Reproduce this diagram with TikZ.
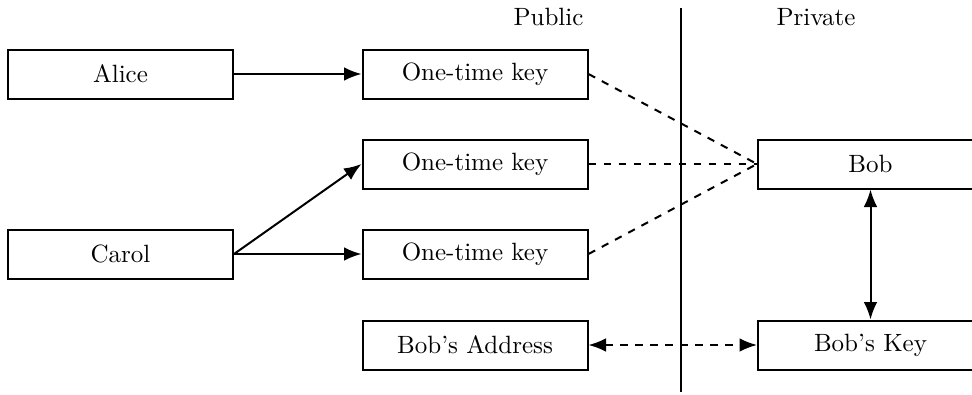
\documentclass[tikz,border=0pt]{standalone}
\usepackage{tikz}
\usetikzlibrary{arrows.meta,positioning,calc}

\begin{document}
\begin{tikzpicture}[x=0.4pt, y=-0.4pt, >={Latex[length=7pt,width=5.5pt]},
  party/.style={draw, thick, minimum width=90pt, minimum height=19.6pt, inner sep=0pt},
  link/.style={thick},
  hidden/.style={thick, dashed}]

\useasboundingbox (0,0) rectangle (972,394);

% Headings
\node[draw=none] (public) at (548.5, 17) {Public};
\node[draw=none] (private) at (816, 17) {Private};

% Dividing line
\coordinate (divtop) at (681, 8);
\coordinate (divbot) at (681, 392);
\draw[link] (divtop) -- (divbot);

% Senders
\node[party] (alice) at (120.5, 74) {Alice};
\node[party] (carol) at (120.5, 254) {Carol};

% One-time keys
\node[party] (otka) at (475, 74) {One-time key};
\node[party] (otkb) at (475, 164) {One-time key};
\node[party] (otkc) at (475, 254) {One-time key};

% Bob's address
\node[party] (addr) at (475, 345) {Bob's Address};

% Bob and his key
\node[party] (bob) at (870.5, 164) {Bob};
\node[party] (bobkey) at (870.5, 345) {Bob's Key};

% Payments
\draw[link, ->] (alice) -- (otka);
\draw[link, ->] (carol.east) -- (otkb.west);
\draw[link, ->] (carol) -- (otkc);

% Bob can see the keys
\draw[hidden] (otka.east) -- (bob.west);
\draw[hidden] (otkb.east) -- (bob.west);
\draw[hidden] (otkc.east) -- (bob.west);

% Keys and address
\draw[link, <->] (bob) -- (bobkey);
\draw[hidden, <->] (addr) -- (bobkey);

\end{tikzpicture}
\end{document}
